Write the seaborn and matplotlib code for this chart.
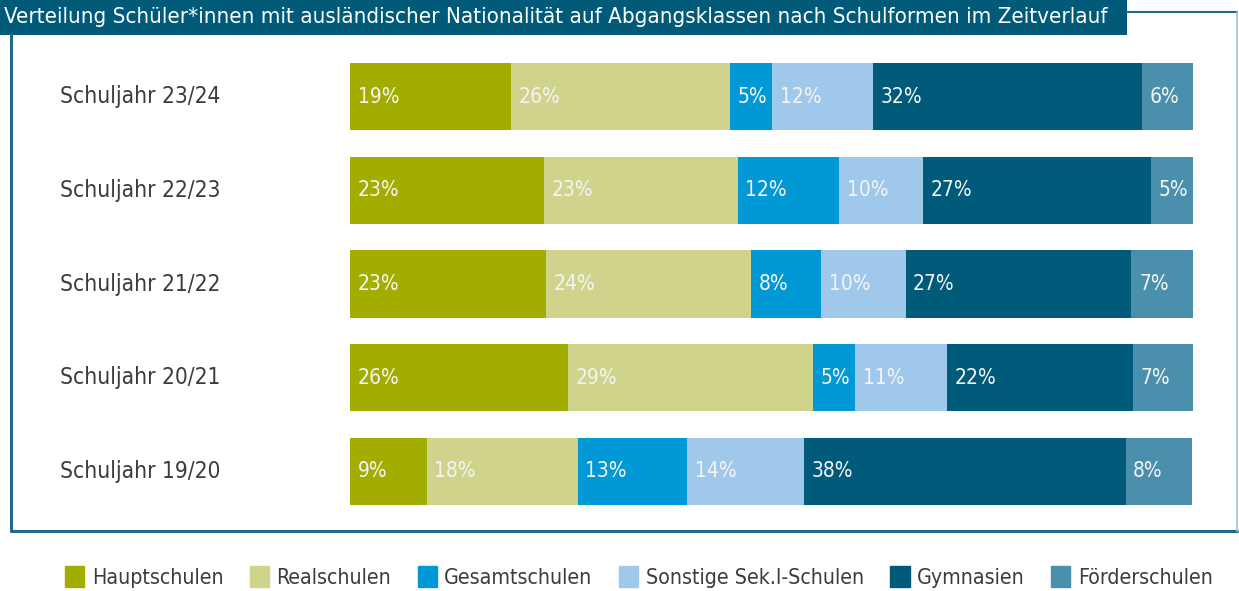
import pandas as pd
import matplotlib.pyplot as plt
import matplotlib.patches as mpatches
import matplotlib.transforms as mtransforms
import seaborn as sns

# Daten (Anteile in %, von oben nach unten)
schuljahre = ["Schuljahr 23/24", "Schuljahr 22/23", "Schuljahr 21/22",
              "Schuljahr 20/21", "Schuljahr 19/20"]
schulformen = ["Hauptschulen", "Realschulen", "Gesamtschulen",
               "Sonstige Sek.I-Schulen", "Gymnasien", "Förderschulen"]

hauptschulen = [19.1, 23.0, 23.3, 25.9, 9.1]
realschulen = [26.0, 23.0, 24.3, 29.0, 17.9]
gesamtschulen = [5.0, 12.0, 8.3, 5.0, 13.0]
sonstige = [11.9, 10.0, 10.0, 10.9, 13.9]
gymnasien = [32.0, 27.0, 26.8, 22.1, 38.1]
foerderschulen = [6.0, 5.0, 7.3, 7.1, 7.9]

farben = ["#a3ad00", "#d0d38c", "#0099d6", "#a0c8ea", "#005a7a", "#4a8fab"]
rahmen = "#1f6a8a"

df = pd.DataFrame({
    "Schuljahr": schuljahre,
    "Hauptschulen": hauptschulen,
    "Realschulen": realschulen,
    "Gesamtschulen": gesamtschulen,
    "Sonstige Sek.I-Schulen": sonstige,
    "Gymnasien": gymnasien,
    "Förderschulen": foerderschulen,
})
kumuliert = df[schulformen].cumsum(axis=1)

sns.set_style("white")
plt.rcParams["font.family"] = ["DejaVu Sans"]
plt.rcParams["font.stretch"] = "condensed"

fig = plt.figure(figsize=(12.39, 5.91), dpi=100)
W, H = 1239, 591
ax = fig.add_axes([350 / W, 73 / H, 843 / W, 468 / H])

# gestapelte Balken: kumulierte Summen, größte zuerst
for i in range(len(schulformen) - 1, -1, -1):
    sns.barplot(x=kumuliert[schulformen[i]], y=df["Schuljahr"], color=farben[i],
                orient="h", width=0.72, ax=ax, saturation=1, linewidth=0)

# Prozentwerte
for r in range(len(schuljahre)):
    links = 0
    for i, sf in enumerate(schulformen):
        wert = df.loc[r, sf]
        ax.text(links + 0.9, r, f"{round(wert):d}%", color="#f4f4f4",
                ha="left", va="center", fontsize=15)
        links += wert

ax.set_xlim(0, 100)
ax.set_ylim(4.5, -0.5)
ax.set_xlabel("")
ax.set_ylabel("")
ax.set_xticks([])
ax.set_yticks([])
sns.despine(ax=ax, left=True, bottom=True)

# Zeilenbeschriftungen
trans = mtransforms.blended_transform_factory(fig.transFigure, ax.transData)
for r, sj in enumerate(schuljahre):
    ax.text(60 / W, r, sj, transform=trans, ha="left", va="center",
            fontsize=16.3, color="#3c3c3c")

# Rahmen
fig.add_artist(plt.Line2D([11 / W, 11 / W], [1 - 35 / H, 1 - 531 / H],
                          color=rahmen, lw=2.2, transform=fig.transFigure))
fig.add_artist(plt.Line2D([11 / W, 1237 / W], [1 - 531 / H, 1 - 531 / H],
                          color=rahmen, lw=2.2, transform=fig.transFigure))
fig.add_artist(plt.Line2D([1127 / W, 1237 / W], [1 - 12 / H, 1 - 12 / H],
                          color=rahmen, lw=1.5, transform=fig.transFigure))
fig.add_artist(plt.Line2D([1237 / W, 1237 / W], [1 - 12 / H, 1 - 531 / H],
                          color="#9fc3d3", lw=1.2, transform=fig.transFigure))

# Titelbox
fig.add_artist(mpatches.Rectangle((0, 1 - 35 / H), 1127 / W, 35 / H,
                                  transform=fig.transFigure, color="#005a78",
                                  lw=0))
fig.text(4 / W, 1 - 17 / H,
         "Verteilung Schüler*innen mit ausländischer Nationalität auf "
         "Abgangsklassen nach Schulformen im Zeitverlauf",
         ha="left", va="center", color="white", fontsize=16)

# Legende
handles = [mpatches.Patch(color=farben[i], label=sf) for i, sf in enumerate(schulformen)]
fig.legend(handles=handles, loc="center left", bbox_to_anchor=(46 / W, 1 - 577 / H),
           ncol=6, frameon=False, fontsize=15.3, handlelength=0.9, handleheight=1.1,
           handletextpad=0.35, columnspacing=1.25, labelcolor="#3c3c3c")

plt.savefig("out.png", dpi=100)
